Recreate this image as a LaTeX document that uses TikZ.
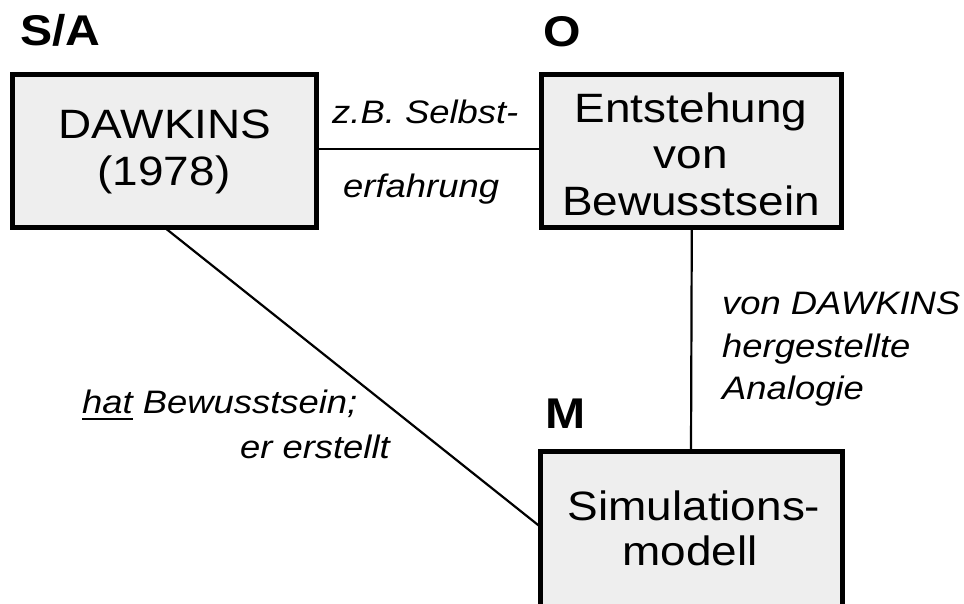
\documentclass[tikz,border=0pt]{standalone}
\usepackage{fontspec}
\setmainfont{Liberation Sans}[FakeStretch=1.12]
\usetikzlibrary{calc}
\definecolor{boxfill}{HTML}{EEEEEE}
\newcommand\myul[1]{\setbox0\hbox{#1}\rlap{\rule[-7pt]{\wd0}{1.6pt}}\box0\relax}
\begin{document}
\begin{tikzpicture}[x=1pt,y=-1pt,
  box/.style={draw=black, line width=5pt, fill=boxfill, inner sep=0pt, outer sep=0pt,
              anchor=north west, minimum height=153pt},
  boxtext/.style={font=\fontsize{41}{46}\selectfont, anchor=base, inner sep=0pt},
  lbl/.style={font=\fontsize{32.5}{43}\selectfont\itshape, inner sep=0pt},
  tag/.style={font=\fontsize{43}{46}\selectfont\bfseries, anchor=base west, inner sep=0pt},
  conn/.style={line width=2.2pt}]
\useasboundingbox (0,0) rectangle (964,603);

% boxes
\node[box, minimum width=304pt] (dawk) at (12.5,74.5) {};
\node[box, minimum width=300pt] (ent) at (541.8,74.5) {};
\node[box, minimum width=302pt, minimum height=162pt] (sim) at (540,451.5) {};

% connectors
\draw[conn] ([yshift=2pt]dawk.east) -- ([yshift=2pt]ent.west);
\draw[conn] (ent.south) -- (sim.north);
\draw[conn] (dawk.south) -- ($(sim.north west)+(0,75)$);

% box texts
\node[boxtext] (t1) at (165,138) {DAWKINS};
\node[boxtext] (t2) at (164,185) {(1978)};
\node[boxtext] (t3) at (691,122) {Entstehung};
\node[boxtext] (t4) at (691,168) {von};
\node[boxtext] (t5) at (691,215) {Bewusstsein};
\node[boxtext] (t6) at (694,520) {Simulations-};
\node[boxtext] (t7) at (690,565) {modell};

% role tags
\node[tag] (sa) at (20,45) {S/A};
\node[tag] (o) at (543,46) {O};
\node[tag] (m) at (545,428) {M};

% connector labels
\node[lbl, anchor=base west] (l1) at (332,123) {z.B. Selbst-};
\node[lbl, anchor=base west] (l2) at (343,197) {erfahrung};
\node[lbl, anchor=base west] (l3) at (722,314) {von DAWKINS};
\node[lbl, anchor=base west] (l4) at (722,357) {hergestellte};
\node[lbl, anchor=base west] (l5) at (722,399) {Analogie};
\node[lbl, anchor=base west] (l6) at (82,413) {\myul{hat} Bewusstsein;};
\node[lbl, anchor=base east] (l7) at (390,458) {er erstellt};
\end{tikzpicture}
\end{document}
